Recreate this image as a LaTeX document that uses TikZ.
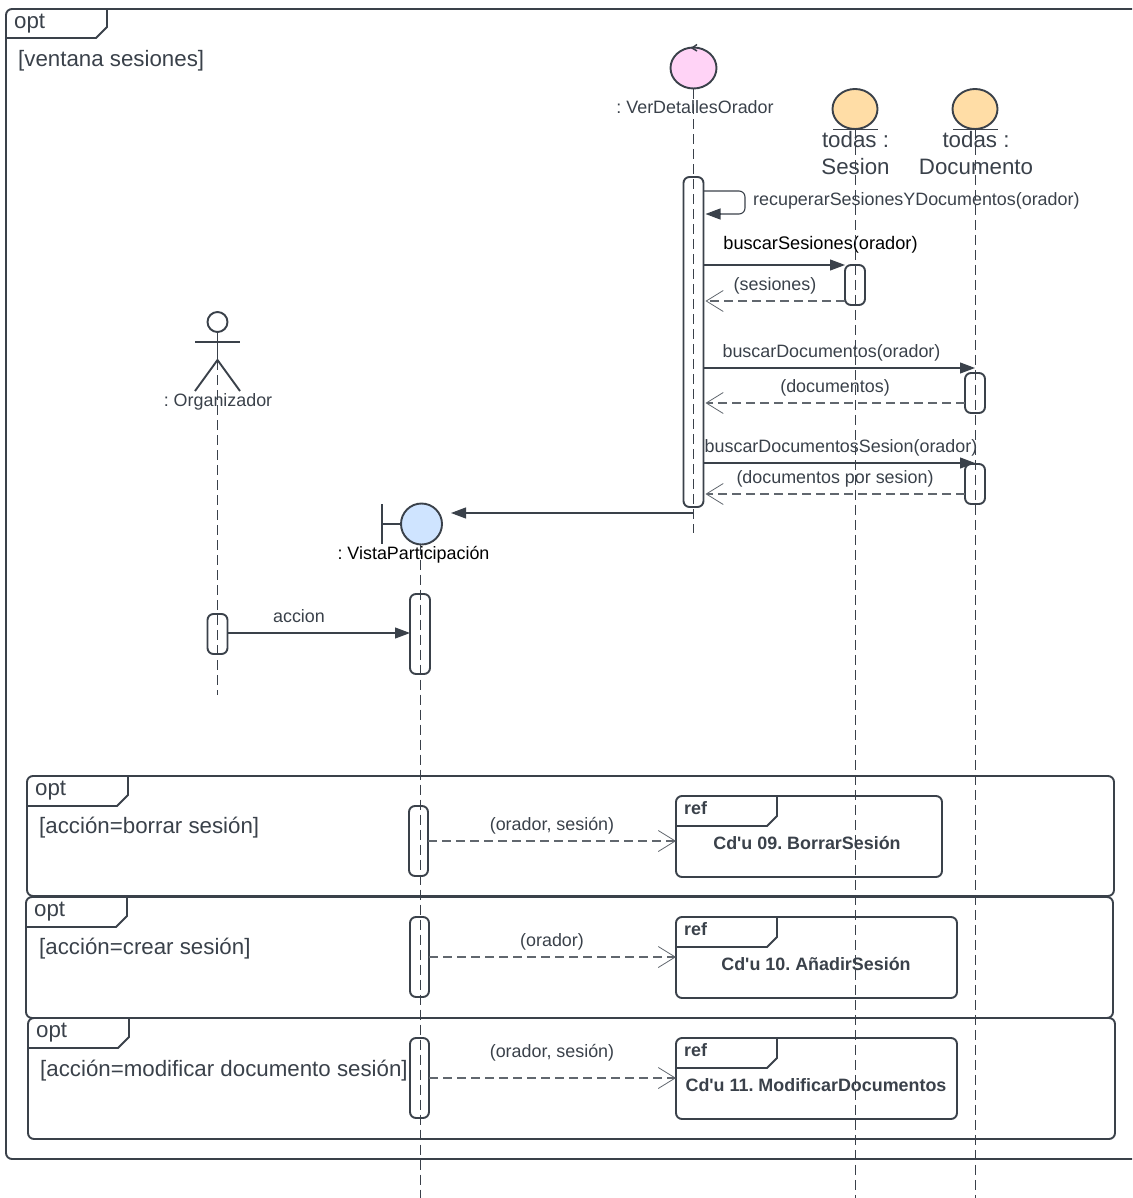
\documentclass[tikz,border=0pt]{standalone}
\usepackage{fontspec}
\setmainfont{Liberation Sans}[Ligatures=TeXOff]
\usetikzlibrary{shapes.geometric,arrows.meta,positioning}
\definecolor{trazo}{HTML}{3A414A}
\definecolor{control}{HTML}{FFD3F6}
\definecolor{entidad}{HTML}{FFDDA6}
\definecolor{limite}{HTML}{CFE4FF}
\tikzset{
  frame/.style={draw=trazo,line width=1.9pt,rounded corners=6pt,inner sep=0pt,outer sep=0pt},
  tabline/.style={draw=trazo,line width=1.9pt},
  activation/.style={draw=trazo,fill=white,line width=1.9pt,rounded corners=6pt,inner sep=0pt,outer sep=0pt,minimum width=20pt},
  lifeline/.style={draw=trazo,line width=1pt,dash pattern=on 10pt off 5pt},
  msg/.style={draw=trazo,line width=1.1pt,-{Triangle[length=15pt,width=11pt]}},
  reply/.style={draw=trazo!80,line width=1.1pt,dash pattern=on 9pt off 5pt,-{Straight Barb[length=17pt,width=21pt,line width=.8pt]}},
  small/.style={text=trazo,inner sep=0pt,text height=13pt,text depth=1pt,font=\fontsize{17.9}{21}\selectfont},
  large/.style={text=trazo,inner sep=0pt,text height=16pt,text depth=1pt,font=\fontsize{22.3}{27}\selectfont},
  heading/.style={text=trazo,inner sep=0pt,align=center,font=\fontsize{22.3}{27}\selectfont},
  refbold/.style={text=trazo,inner sep=0pt,text height=13pt,text depth=1pt,font=\fontsize{17.9}{21}\selectfont\bfseries},
}
\frenchspacing
\begin{document}
\begin{tikzpicture}[x=1pt,y=-1pt]
      \useasboundingbox (0,0) rectangle (1132,1198);
      % Marco exterior
      \draw[tabline,rounded corners=6pt] (1132,9) -- (6,9) -- (6,1159) -- (1132,1159);
      \coordinate (tabMain) at (107,9);
      \draw[tabline] (tabMain) -- ++(0,18) -- ++(-11,11) -- (6,38);
      \node[large,anchor=west](optMain) at (14,21){opt};
      \node[large,anchor=west](guardMain) at (18,59){[ventana sesiones]};
      % Marcos opt
      \node[frame,minimum width=1087pt,minimum height=120pt](optBorrar) at (570.5,836){};
      \node[frame,minimum width=1087pt,minimum height=121pt](optCrear) at (569.5,957.5){};
      \node[frame,minimum width=1087pt,minimum height=121pt](optModificar) at (571.5,1078.5){};
      \draw[tabline] (optBorrar.north west) ++(101,0) -- ++(0,19) -- ++(-11,11) -- ++(-90,0);
      \draw[tabline] (optCrear.north west) ++(101,0) -- ++(0,19) -- ++(-11,11) -- ++(-90,0);
      \draw[tabline] (optModificar.north west) ++(101,0) -- ++(0,19) -- ++(-11,11) -- ++(-90,0);
      \node[large,anchor=west](optBorrarTag) at (35,788){opt};
      \node[large,anchor=west](optCrearTag) at (34,909){opt};
      \node[large,anchor=west](optModificarTag) at (36,1030){opt};
      \node[large,anchor=west](guardBorrar) at (39,826){[acción=borrar sesión]};
      \node[large,anchor=west](guardCrear) at (39,947){[acción=crear sesión]};
      \node[large,anchor=west](guardModificar) at (40,1068.5){[acción=modificar documento sesión]};
      % Marcos ref
      \node[frame,minimum width=266pt,minimum height=81pt](refBorrar) at (809,836.5){};
      \node[frame,minimum width=281pt,minimum height=81pt](refCrear) at (816.5,957.5){};
      \node[frame,minimum width=281pt,minimum height=81pt](refModificar) at (816.5,1078.5){};
      \draw[tabline] (refBorrar.north west) ++(101,0) -- ++(0,20) -- ++(-10,10) -- ++(-91,0);
      \draw[tabline] (refCrear.north west) ++(101,0) -- ++(0,20) -- ++(-10,10) -- ++(-91,0);
      \draw[tabline] (refModificar.north west) ++(101,0) -- ++(0,20) -- ++(-10,10) -- ++(-91,0);
      \node[refbold,anchor=west](refBorrarTag) at (684,808){ref};
      \node[refbold,anchor=west](refCrearTag) at (684,929){ref};
      \node[refbold,anchor=west](refModificarTag) at (684,1050){ref};
      \node[refbold](cduBorrar) at (807,843.5){Cd'u 09. BorrarSesión};
      \node[refbold](cduCrear) at (816,964.5){Cd'u 10. AñadirSesión};
      \node[refbold](cduModificar) at (816,1085.5){Cd'u 11. ModificarDocumentos};
      % Cabeceras
      \node[ellipse,draw=trazo,fill=control,line width=1.9pt,minimum width=46pt,minimum height=41pt,inner sep=0pt](ver) at (693.5,68){};
      \draw[draw=trazo,line width=1.5pt] (697,44.5) -- (692,48) -- (697,51);
      \node[small](verLabel) at (695,107.5){: VerDetallesOrador};
      \node[ellipse,draw=trazo,fill=entidad,line width=1.9pt,minimum width=45pt,minimum height=40pt,inner sep=0pt](sesion) at (855,109){};
      \draw[tabline] (833,129.5) -- (878,129.5);
      \node[heading](sesionLabel) at (855.5,153){todas :\\Sesion};
      \node[ellipse,draw=trazo,fill=entidad,line width=1.9pt,minimum width=45pt,minimum height=40pt,inner sep=0pt](documento) at (975,109){};
      \draw[tabline] (953,129.5) -- (998,129.5);
      \node[heading](documentoLabel) at (976,153){todas :\\Documento};
      \node[circle,draw=trazo,fill=limite,line width=1.9pt,minimum size=41pt,inner sep=0pt,outer sep=0pt](vista) at (421.5,524){};
      \draw[tabline] (382,504) -- (382,544);
      \draw[tabline] (382,524) -- (vista.west);
      \node[small,text=black](vistaLabel) at (413.5,553){: VistaParticipación};
      \node[circle,draw=trazo,line width=1.9pt,minimum size=20pt,inner sep=0pt,outer sep=0pt](head) at (217.5,322){};
      \coordinate (hip) at (217.5,360);
      \draw[tabline] (head.south) -- (hip);
      \draw[tabline] (195,342) -- (240,342);
      \draw[tabline] (195,391) -- (hip) -- (240,391);
      \node[small](headLabel) at (218,400){: Organizador};
      % Barras de activacion
      \node[activation,minimum height=330pt](actVer) at (693.5,342){};
      \node[activation,minimum height=40pt](actSesion) at (855,285){};
      \node[activation,minimum height=40pt](actDocumento) at (975,393){};
      \node[activation,minimum height=40pt](actDocSesion) at (975,484){};
      \node[activation,minimum height=80pt](actVista) at (420,634){};
      \node[activation,minimum height=40pt](actHead) at (217.5,634){};
      \node[activation,minimum width=19pt,minimum height=70pt](actBorrar) at (418.5,841){};
      \node[activation,minimum width=19pt,minimum height=80pt](actCrear) at (419.5,957){};
      \node[activation,minimum width=19pt,minimum height=80pt](actModificar) at (419.5,1078){};
      % Mensajes
      \draw[draw=trazo,line width=1.1pt,rounded corners=6pt] (actVer.east |- 0,191) -- (745,191) -- (745,214) -- (720,214);
      \draw[msg,shorten >=2pt] (720,214) -- (actVer.east |- 0,214);
      \node[small,anchor=west](recuperar) at (753,200){recuperarSesionesYDocumentos(orador)};
      \draw[msg] (actVer.east |- 0,265) -- (actSesion.north west);
      \node[small,text=black,font=\fontsize{18.2}{21}\selectfont](buscarSes) at (820.5,244){buscarSesiones(orador)};
      \draw[reply,shorten >=2pt] (actSesion.west |- 0,301) -- (actVer.east |- 0,301);
      \node[small](sesiones) at (775,284){(sesiones)};
      \draw[msg] (actVer.east |- 0,368) -- (975,368);
      \node[small](buscarDoc) at (831.5,351){buscarDocumentos(orador)};
      \draw[reply,shorten >=2pt] (actDocumento.west |- 0,403) -- (actVer.east |- 0,403);
      \node[small](documentos) at (835,386){(documentos)};
      \draw[msg] (actVer.east |- 0,463) -- (975,463);
      \node[small](buscarDocSes) at (841,446){buscarDocumentosSesion(orador)};
      \draw[reply,shorten >=2pt] (actDocSesion.west |- 0,494) -- (actVer.east |- 0,494);
      \node[small](porSesion) at (835,477){(documentos por sesion)};
      \draw[msg] (actVer.south |- 0,513) -- (451,513);
      \draw[msg] (actHead.east |- 0,633) -- (actVista.west |- 0,633);
      \node[small](accion) at (299,616){accion};
      \draw[reply] (actBorrar.east |- 0,841) -- (refBorrar.west |- 0,841);
      \node[small](paramBorrar) at (552,824){(orador, sesión)};
      \draw[reply] (actCrear.east |- 0,957) -- (refCrear.west |- 0,957);
      \node[small](paramCrear) at (552,940){(orador)};
      \draw[reply] (actModificar.east |- 0,1078) -- (refModificar.west |- 0,1078);
      \node[small](paramModificar) at (552,1051){(orador, sesión)};
      % Lineas de vida
      \coordinate (verEnd) at (693.5,533);
      \coordinate (headEnd) at (217.5,695);
      \coordinate (vistaEnd) at (420,1198);
      \coordinate (sesionEnd) at (855,1198);
      \coordinate (documentoEnd) at (975,1198);
      \draw[lifeline] (ver.south) -- (verEnd);
      \draw[lifeline] (hip) -- (headEnd);
      \draw[lifeline] (vista.south -| vistaEnd) -- (vistaEnd);
      \draw[lifeline] (sesion.south) -- (sesionEnd);
      \draw[lifeline] (documento.south) -- (documentoEnd);
    \end{tikzpicture}
\end{document}
